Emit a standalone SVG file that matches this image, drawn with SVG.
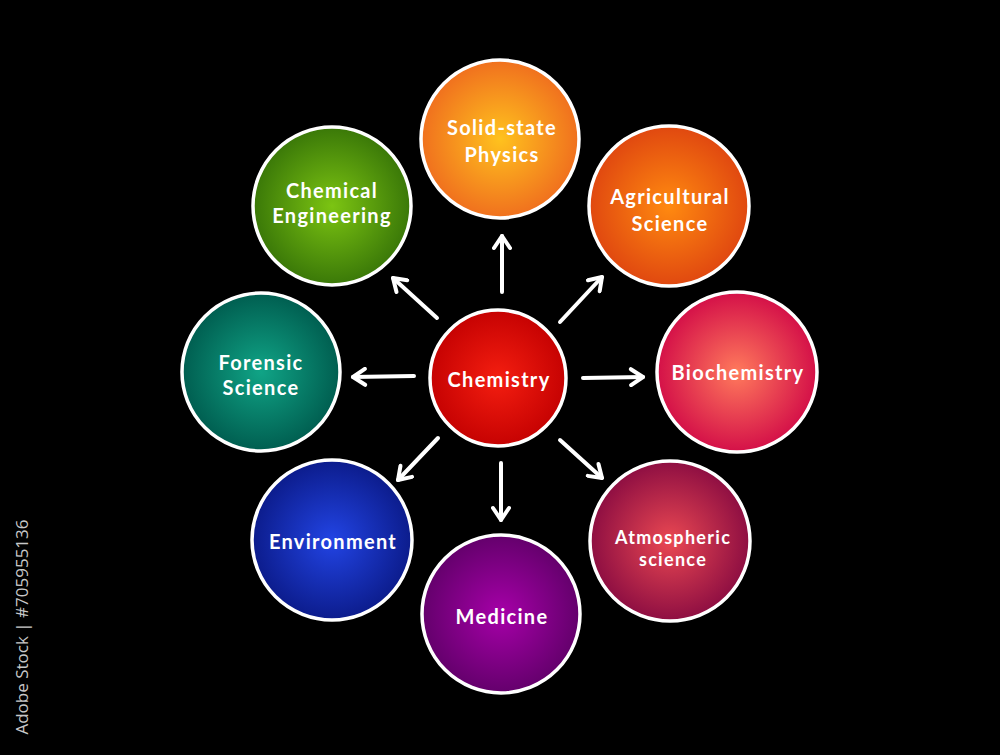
<svg xmlns="http://www.w3.org/2000/svg" width="1000" height="755" viewBox="0 0 1000 755">
<defs>
<style>
.node circle{stroke:#fff;stroke-width:3.5}
.lbl{font-family:Lato,"Open Sans","Noto Sans",sans-serif;font-weight:700;font-size:20px;fill:#fff;text-anchor:middle;letter-spacing:1.3px}
.sm{font-size:18px}
.conn line{stroke:#fff;stroke-width:4;stroke-linecap:round;fill:none}
.wm{font-family:"Open Sans","Noto Sans",sans-serif;font-size:17px;fill:#c8c8c8}
</style>
<marker id="ah" viewBox="0 0 20 20" refX="16" refY="10" markerWidth="20" markerHeight="20" markerUnits="userSpaceOnUse" orient="auto">
<polyline points="4,2 16,10 4,18" fill="none" stroke="#fff" stroke-width="4" stroke-linecap="round" stroke-linejoin="round"/>
</marker>
<radialGradient id="gChem"><stop offset="0" stop-color="#f41e10"/><stop offset="1" stop-color="#c60202"/></radialGradient>
<radialGradient id="gSolid"><stop offset="0" stop-color="#ffc21e"/><stop offset="1" stop-color="#f0701e"/></radialGradient>
<radialGradient id="gAgri"><stop offset="0" stop-color="#ff8a10"/><stop offset="1" stop-color="#e04810"/></radialGradient>
<radialGradient id="gBio"><stop offset="0" stop-color="#ff7a5c"/><stop offset="1" stop-color="#d41048"/></radialGradient>
<radialGradient id="gAtm"><stop offset="0" stop-color="#ea4852"/><stop offset="1" stop-color="#8e0e42"/></radialGradient>
<radialGradient id="gMed"><stop offset="0" stop-color="#a600a8"/><stop offset="1" stop-color="#64006c"/></radialGradient>
<radialGradient id="gEnv"><stop offset="0" stop-color="#2244e4"/><stop offset="1" stop-color="#0c1c8c"/></radialGradient>
<radialGradient id="gFor"><stop offset="0" stop-color="#10a486"/><stop offset="1" stop-color="#005e50"/></radialGradient>
<radialGradient id="gChE"><stop offset="0" stop-color="#7cc412"/><stop offset="1" stop-color="#3a7808"/></radialGradient>
</defs>
<rect width="1000" height="755" fill="#000"/>
<text class="wm" transform="translate(28,627) rotate(-90)" text-anchor="middle">Adobe Stock | #705955136</text>

<g id="connectors" class="conn">
<line x1="502" y1="292" x2="502" y2="236" marker-end="url(#ah)"/>
<line x1="437" y1="318" x2="393" y2="278" marker-end="url(#ah)"/>
<line x1="560" y1="322" x2="602" y2="277" marker-end="url(#ah)"/>
<line x1="414" y1="376" x2="353" y2="377" marker-end="url(#ah)"/>
<line x1="583" y1="378" x2="643" y2="377" marker-end="url(#ah)"/>
<line x1="438" y1="438" x2="398" y2="480" marker-end="url(#ah)"/>
<line x1="501" y1="463" x2="501" y2="520" marker-end="url(#ah)"/>
<line x1="560" y1="440" x2="602" y2="478" marker-end="url(#ah)"/>
</g>

<g id="chemistry" class="node"><circle cx="498" cy="378" r="68" fill="url(#gChem)"/><text class="lbl" x="499" y="387">Chemistry</text></g>
<g id="solid-state-physics" class="node"><circle cx="500" cy="139" r="79" fill="url(#gSolid)"/><text class="lbl" x="502" y="135">Solid-state</text><text class="lbl" x="502" y="162">Physics</text></g>
<g id="agricultural-science" class="node"><circle cx="669" cy="206" r="80" fill="url(#gAgri)"/><text class="lbl" x="670" y="204">Agricultural</text><text class="lbl" x="670" y="231">Science</text></g>
<g id="biochemistry" class="node"><circle cx="737" cy="372" r="80" fill="url(#gBio)"/><text class="lbl" x="738" y="380">Biochemistry</text></g>
<g id="atmospheric-science" class="node"><circle cx="670" cy="541" r="80" fill="url(#gAtm)"/><text class="lbl sm" x="673" y="544">Atmospheric</text><text class="lbl sm" x="673" y="566">science</text></g>
<g id="medicine" class="node"><circle cx="501" cy="614" r="79" fill="url(#gMed)"/><text class="lbl" x="502" y="624">Medicine</text></g>
<g id="environment" class="node"><circle cx="332" cy="540" r="80" fill="url(#gEnv)"/><text class="lbl" x="333" y="549">Environment</text></g>
<g id="forensic-science" class="node"><circle cx="261" cy="372" r="79" fill="url(#gFor)"/><text class="lbl" x="261" y="370">Forensic</text><text class="lbl" x="261" y="395">Science</text></g>
<g id="chemical-engineering" class="node"><circle cx="332" cy="206" r="79" fill="url(#gChE)"/><text class="lbl" x="332" y="198">Chemical</text><text class="lbl" x="332" y="223">Engineering</text></g>
</svg>
